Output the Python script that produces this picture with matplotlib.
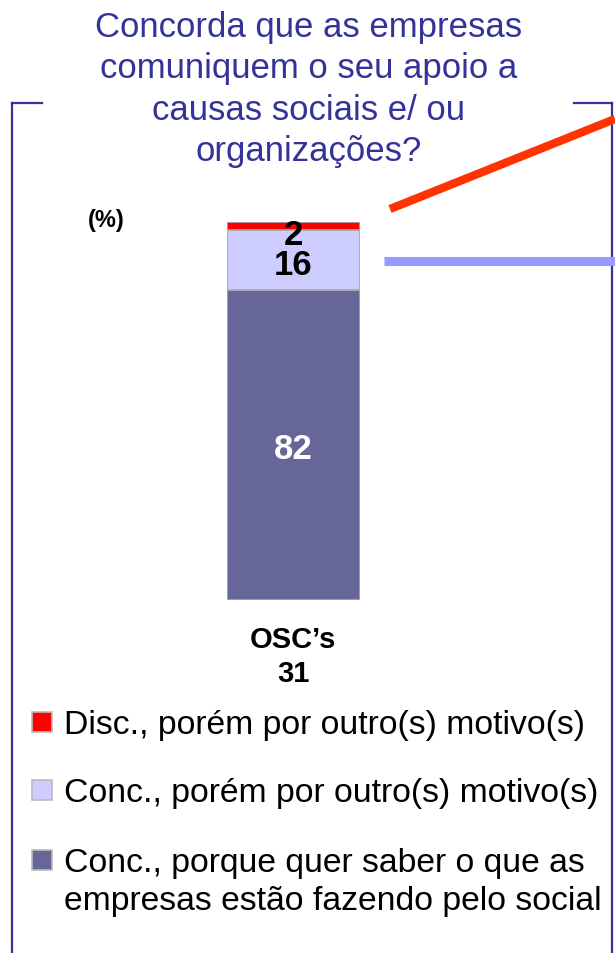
import matplotlib
matplotlib.use('Agg')
import matplotlib.pyplot as plt
from matplotlib.lines import Line2D
from matplotlib.patches import Rectangle

W, H = 615, 954

# data
category = "OSC\u2019s"
base_n = "31"
labels = [['Disc., porém por outro(s) motivo(s)'],
          ['Conc., porém por outro(s) motivo(s)'],
          ['Conc., porque quer saber o que as',
           'empresas estão fazendo pelo social']]
values = [2, 16, 82]
colors = ['#ff0000', '#ccccff', '#666699']
title_lines = ['Concorda que as empresas', 'comuniquem o seu apoio a',
               'causas sociais e/ ou', 'organizações?']

plt.rcParams['font.family'] = ['Liberation Sans', 'DejaVu Sans']

fig = plt.figure(figsize=(W / 100, H / 100), dpi=100)


def fx(x):
    return x / W


def fy(y):
    return 1 - y / H


navy = '#333399'

# frame around the chart
for xs, ys in [([11.5, 11.5], [104, 954]), ([11.5, 42], [104, 104]),
               ([574, 612], [104, 104]), ([612, 612], [104, 954])]:
    fig.add_artist(Line2D([fx(v) for v in xs], [fy(v) for v in ys],
                          color=navy, lw=1.6))

# title
for i, t in enumerate(title_lines):
    fig.text(fx(309), fy(37 + i * 41.3), t, ha='center', va='baseline',
             fontsize=25, color=navy)

fig.text(fx(106), fy(220), '(%)', ha='center', va='center',
         fontsize=17, fontweight='bold')

# stacked bar
ax = fig.add_axes([fx(227), fy(601), (360 - 227) / W, (601 - 223) / H])
bottom = 0
order = [2, 1, 0]
for k in order:
    ax.bar(0, values[k], width=1, bottom=bottom, color=colors[k],
           edgecolor='#aaaaaa', linewidth=1.2)
    bottom += values[k]
ax.set_xlim(-0.5, 0.5)
ax.set_ylim(0, 100)
ax.axis('off')

ax.text(0, values[2] / 2 - 1, str(values[2]), ha='center', va='center',
        fontsize=25, fontweight='bold', color='white')
ax.text(0, values[2] + values[1] / 2 - 1.3, str(values[1]), ha='center',
        va='center', fontsize=25, fontweight='bold', color='black')
ax.text(0, 100 - values[0] / 2 - 2.3, str(values[0]), ha='center',
        va='center', fontsize=25, fontweight='bold', color='black')

fig.text(fx(293), fy(640), category, ha='center', va='center',
         fontsize=21, fontweight='bold')
fig.text(fx(293), fy(674), base_n, ha='center', va='center',
         fontsize=21, fontweight='bold')

# callout lines
fig.add_artist(Line2D([fx(390), fx(615)], [fy(210), fy(120)],
                      color='#ff3300', lw=6, solid_capstyle='butt'))
fig.add_artist(Line2D([fx(384), fx(615)], [fy(262), fy(262)],
                      color='#9999ff', lw=6.5, solid_capstyle='butt'))

# legend
baselines = [734, 802, 872]
for lines, col, yb in zip(labels, colors, baselines):
    fig.add_artist(Rectangle((fx(32), fy(yb - 1)), 20 / W, 20 / H,
                             facecolor=col, edgecolor='#bbbbbb', lw=1.2))
    for j, line in enumerate(lines):
        fig.text(fx(64), fy(yb + j * 38), line, ha='left', va='baseline',
                 fontsize=24.3)

fig.savefig('out.png', dpi=100)
